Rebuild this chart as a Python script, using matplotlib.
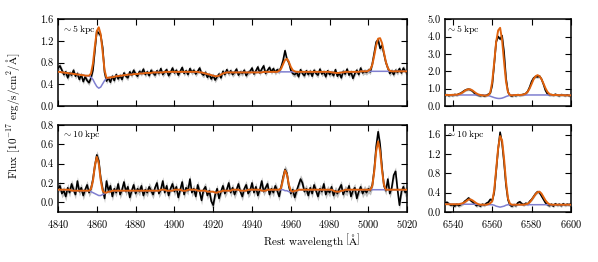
import matplotlib
matplotlib.use('Agg')
import matplotlib.pyplot as plt
import numpy as np
from matplotlib.ticker import FormatStrFormatter


# ================================== data ====================================

# wavelength grids (rest frame, Angstrom)
wave_blue = np.arange(4840, 5021)
wave_red = np.arange(6536, 6601)

# ~5 kpc, H-beta / [OIII] region: data, fitted model, continuum
flux_5_blue = [
    0.70, 0.74, 0.66, 0.58, 0.63, 0.52, 0.61, 0.57, 0.66, 0.55,
    0.60, 0.49, 0.58, 0.45, 0.54, 0.47, 0.43, 0.52, 0.66, 1.02,
    1.38, 1.34, 1.30, 1.08, 0.62, 0.46, 0.52, 0.44, 0.55, 0.47,
    0.58, 0.50, 0.56, 0.49, 0.61, 0.55, 0.52, 0.63, 0.57, 0.66,
    0.59, 0.55, 0.64, 0.60, 0.68, 0.58, 0.63, 0.56, 0.66, 0.61,
    0.57, 0.65, 0.60, 0.69, 0.58, 0.63, 0.67, 0.56, 0.62, 0.70,
    0.61, 0.66, 0.57, 0.64, 0.71, 0.60, 0.65, 0.58, 0.69, 0.62,
    0.66, 0.59, 0.64, 0.70, 0.60, 0.57, 0.62, 0.53, 0.58, 0.50,
    0.56, 0.48, 0.54, 0.59, 0.52, 0.64, 0.58, 0.67, 0.60, 0.65,
    0.58, 0.62, 0.68, 0.57, 0.63, 0.60, 0.66, 0.56, 0.62, 0.64,
    0.70, 0.59, 0.65, 0.72, 0.61, 0.68, 0.74, 0.60, 0.66, 0.71,
    0.63, 0.69, 0.62, 0.67, 0.64, 0.72, 0.84, 1.02, 0.86, 0.80,
    0.66, 0.60, 0.58, 0.62, 0.54, 0.67, 0.60, 0.56, 0.65, 0.58,
    0.64, 0.55, 0.66, 0.60, 0.57, 0.68, 0.59, 0.63, 0.54, 0.65,
    0.58, 0.62, 0.56, 0.67, 0.55, 0.61, 0.52, 0.64, 0.59, 0.68,
    0.57, 0.63, 0.51, 0.60, 0.66, 0.58, 0.70, 0.61, 0.64, 0.62,
    0.66, 0.63, 0.78, 0.98, 1.18, 1.22, 1.06, 1.12, 0.96, 0.80,
    0.70, 0.60, 0.65, 0.58, 0.66, 0.62, 0.69, 0.61, 0.70, 0.64,
    0.62]
model_5_blue = [
    0.63, 0.63, 0.62, 0.62, 0.61, 0.61, 0.60, 0.60, 0.59, 0.59,
    0.58, 0.58, 0.57, 0.57, 0.56, 0.56, 0.56, 0.60, 0.78, 1.10,
    1.38, 1.45, 1.32, 1.00, 0.66, 0.52, 0.52, 0.53, 0.53, 0.54,
    0.55, 0.55, 0.56, 0.56, 0.57, 0.57, 0.58, 0.58, 0.58, 0.59,
    0.59, 0.59, 0.60, 0.60, 0.60, 0.61, 0.61, 0.61, 0.61, 0.62,
    0.62, 0.62, 0.62, 0.62, 0.62, 0.63, 0.63, 0.63, 0.63, 0.63,
    0.63, 0.63, 0.63, 0.63, 0.63, 0.63, 0.63, 0.63, 0.63, 0.63,
    0.63, 0.63, 0.63, 0.62, 0.62, 0.61, 0.60, 0.59, 0.58, 0.57,
    0.56, 0.55, 0.55, 0.56, 0.58, 0.60, 0.61, 0.62, 0.62, 0.62,
    0.62, 0.62, 0.62, 0.62, 0.62, 0.62, 0.62, 0.62, 0.62, 0.62,
    0.62, 0.62, 0.62, 0.62, 0.62, 0.62, 0.63, 0.63, 0.63, 0.63,
    0.63, 0.63, 0.63, 0.63, 0.65, 0.69, 0.77, 0.85, 0.87, 0.81,
    0.72, 0.66, 0.64, 0.63, 0.63, 0.63, 0.63, 0.63, 0.63, 0.63,
    0.63, 0.63, 0.63, 0.63, 0.63, 0.63, 0.63, 0.63, 0.63, 0.63,
    0.63, 0.62, 0.62, 0.61, 0.61, 0.61, 0.62, 0.62, 0.63, 0.63,
    0.63, 0.63, 0.63, 0.63, 0.63, 0.63, 0.64, 0.64, 0.64, 0.64,
    0.65, 0.68, 0.76, 0.93, 1.12, 1.24, 1.25, 1.16, 0.98, 0.81,
    0.70, 0.65, 0.64, 0.64, 0.64, 0.64, 0.64, 0.64, 0.64, 0.64,
    0.64]
cont_5_blue = [
    0.63, 0.63, 0.62, 0.62, 0.61, 0.61, 0.60, 0.60, 0.59, 0.59,
    0.58, 0.58, 0.57, 0.57, 0.56, 0.56, 0.55, 0.53, 0.49, 0.42,
    0.36, 0.33, 0.35, 0.41, 0.47, 0.51, 0.52, 0.53, 0.53, 0.54,
    0.55, 0.55, 0.56, 0.56, 0.57, 0.57, 0.58, 0.58, 0.58, 0.59,
    0.59, 0.59, 0.60, 0.60, 0.60, 0.61, 0.61, 0.61, 0.61, 0.62,
    0.62, 0.62, 0.62, 0.62, 0.62, 0.63, 0.63, 0.63, 0.63, 0.63,
    0.63, 0.63, 0.63, 0.63, 0.63, 0.63, 0.63, 0.63, 0.63, 0.63,
    0.63, 0.63, 0.63, 0.62, 0.62, 0.61, 0.60, 0.59, 0.58, 0.57,
    0.56, 0.55, 0.55, 0.56, 0.58, 0.60, 0.61, 0.62, 0.62, 0.62,
    0.62, 0.62, 0.62, 0.62, 0.62, 0.62, 0.62, 0.62, 0.62, 0.62,
    0.62, 0.62, 0.62, 0.62, 0.62, 0.62, 0.63, 0.63, 0.63, 0.63,
    0.63, 0.63, 0.63, 0.63, 0.63, 0.63, 0.63, 0.63, 0.63, 0.63,
    0.63, 0.63, 0.63, 0.63, 0.63, 0.63, 0.63, 0.63, 0.63, 0.63,
    0.63, 0.63, 0.63, 0.63, 0.63, 0.63, 0.63, 0.63, 0.63, 0.63,
    0.63, 0.62, 0.62, 0.61, 0.61, 0.61, 0.62, 0.62, 0.63, 0.63,
    0.63, 0.63, 0.63, 0.63, 0.63, 0.63, 0.64, 0.64, 0.64, 0.64,
    0.64, 0.64, 0.64, 0.64, 0.64, 0.64, 0.64, 0.64, 0.64, 0.64,
    0.64, 0.64, 0.64, 0.64, 0.64, 0.64, 0.64, 0.64, 0.64, 0.64,
    0.64]

# ~10 kpc, H-beta / [OIII] region
flux_10_blue = [
    0.14, 0.17, 0.09, 0.12, 0.06, 0.15, 0.10, 0.19, 0.13, 0.08,
    0.22, 0.11, 0.15, 0.07, 0.13, 0.18, 0.10, 0.14, 0.24, 0.38,
    0.49, 0.43, 0.25, 0.14, 0.04, 0.22, 0.12, 0.17, 0.06, 0.14,
    0.10, 0.19, 0.08, 0.13, 0.21, 0.11, 0.16, 0.05, 0.12, 0.18,
    0.09, 0.14, 0.11, 0.17, 0.07, 0.13, 0.10, 0.16, 0.12, 0.08,
    0.15, 0.20, 0.09, 0.13, 0.22, 0.10, 0.17, 0.07, 0.14, 0.19,
    0.11, 0.16, 0.05, 0.13, 0.21, 0.08, 0.15, 0.12, 0.24, 0.10,
    0.14, 0.06, 0.18, 0.11, 0.02, 0.13, 0.16, 0.07, 0.12, 0.01,
    -0.03, 0.08, 0.14, 0.04, 0.11, 0.17, 0.09, 0.13, 0.20, 0.10,
    0.15, 0.08, 0.13, 0.19, 0.11, 0.06, 0.14, 0.18, 0.09, 0.12,
    0.20, 0.10, 0.16, 0.07, 0.13, 0.22, 0.11, 0.15, 0.19, 0.08,
    0.14, 0.10, 0.17, 0.12, 0.06, 0.16, 0.26, 0.34, 0.30, 0.16,
    0.09, 0.13, 0.05, 0.12, 0.18, 0.24, 0.20, 0.11, 0.14, 0.07,
    0.15, 0.09, 0.18, 0.12, 0.06, 0.14, 0.11, 0.19, 0.08, 0.13,
    0.10, 0.16, 0.07, 0.12, 0.09, 0.14, 0.18, 0.08, 0.13, 0.11,
    0.17, 0.06, 0.12, 0.15, 0.04, 0.11, 0.16, 0.09, 0.13, 0.10,
    0.14, 0.12, 0.18, 0.34, 0.58, 0.73, 0.60, 0.36, 0.17, 0.12,
    0.24, 0.09, 0.15, 0.28, 0.32, 0.13, -0.03, 0.11, 0.16, 0.10,
    0.12]
model_10_blue = [
    0.13, 0.13, 0.13, 0.13, 0.13, 0.13, 0.13, 0.12, 0.12, 0.12,
    0.12, 0.12, 0.12, 0.12, 0.12, 0.12, 0.12, 0.14, 0.22, 0.38,
    0.47, 0.40, 0.23, 0.12, 0.10, 0.10, 0.11, 0.11, 0.12, 0.12,
    0.12, 0.12, 0.12, 0.12, 0.12, 0.12, 0.12, 0.12, 0.12, 0.12,
    0.12, 0.12, 0.12, 0.12, 0.12, 0.12, 0.12, 0.12, 0.12, 0.12,
    0.12, 0.12, 0.12, 0.13, 0.13, 0.13, 0.12, 0.12, 0.12, 0.12,
    0.13, 0.13, 0.13, 0.13, 0.12, 0.12, 0.12, 0.13, 0.13, 0.13,
    0.13, 0.13, 0.12, 0.12, 0.12, 0.12, 0.12, 0.11, 0.11, 0.11,
    0.11, 0.10, 0.10, 0.11, 0.11, 0.12, 0.12, 0.12, 0.12, 0.12,
    0.13, 0.13, 0.13, 0.13, 0.12, 0.12, 0.12, 0.12, 0.13, 0.13,
    0.13, 0.13, 0.13, 0.13, 0.13, 0.12, 0.12, 0.12, 0.13, 0.13,
    0.13, 0.13, 0.13, 0.13, 0.13, 0.15, 0.24, 0.33, 0.29, 0.18,
    0.12, 0.11, 0.12, 0.12, 0.13, 0.13, 0.13, 0.13, 0.13, 0.13,
    0.13, 0.13, 0.13, 0.13, 0.13, 0.13, 0.13, 0.13, 0.13, 0.13,
    0.13, 0.13, 0.12, 0.11, 0.11, 0.11, 0.12, 0.12, 0.13, 0.13,
    0.13, 0.13, 0.13, 0.13, 0.13, 0.13, 0.13, 0.13, 0.13, 0.13,
    0.13, 0.13, 0.17, 0.32, 0.53, 0.63, 0.53, 0.33, 0.18, 0.13,
    0.13, 0.13, 0.13, 0.13, 0.13, 0.13, 0.13, 0.13, 0.13, 0.13,
    0.13]
cont_10_blue = [
    0.13, 0.13, 0.13, 0.13, 0.13, 0.13, 0.13, 0.12, 0.12, 0.12,
    0.12, 0.12, 0.12, 0.12, 0.12, 0.12, 0.12, 0.11, 0.10, 0.09,
    0.08, 0.07, 0.07, 0.08, 0.09, 0.10, 0.11, 0.11, 0.12, 0.12,
    0.12, 0.12, 0.12, 0.12, 0.12, 0.12, 0.12, 0.12, 0.12, 0.12,
    0.12, 0.12, 0.12, 0.12, 0.12, 0.12, 0.12, 0.12, 0.12, 0.12,
    0.12, 0.12, 0.12, 0.13, 0.13, 0.13, 0.12, 0.12, 0.12, 0.12,
    0.13, 0.13, 0.13, 0.13, 0.12, 0.12, 0.12, 0.13, 0.13, 0.13,
    0.13, 0.13, 0.12, 0.12, 0.12, 0.12, 0.12, 0.11, 0.11, 0.11,
    0.11, 0.10, 0.10, 0.11, 0.11, 0.12, 0.12, 0.12, 0.12, 0.12,
    0.13, 0.13, 0.13, 0.13, 0.12, 0.12, 0.12, 0.12, 0.13, 0.13,
    0.13, 0.13, 0.13, 0.13, 0.13, 0.12, 0.12, 0.12, 0.13, 0.13,
    0.13, 0.13, 0.13, 0.13, 0.13, 0.13, 0.13, 0.12, 0.12, 0.11,
    0.11, 0.11, 0.12, 0.12, 0.13, 0.13, 0.13, 0.13, 0.13, 0.13,
    0.13, 0.13, 0.13, 0.13, 0.13, 0.13, 0.13, 0.13, 0.13, 0.13,
    0.13, 0.13, 0.12, 0.11, 0.11, 0.11, 0.12, 0.12, 0.13, 0.13,
    0.13, 0.13, 0.13, 0.13, 0.13, 0.13, 0.13, 0.13, 0.13, 0.13,
    0.13, 0.13, 0.13, 0.13, 0.13, 0.13, 0.13, 0.13, 0.13, 0.13,
    0.13, 0.13, 0.13, 0.13, 0.13, 0.13, 0.13, 0.13, 0.13, 0.13,
    0.13]

# ~5 kpc, H-alpha / [NII] region
flux_5_red = [
    0.62, 0.66, 0.60, 0.64, 0.61, 0.67, 0.63, 0.70, 0.74, 0.82,
    0.90, 0.95, 0.97, 0.94, 0.86, 0.74, 0.66, 0.62, 0.60, 0.63,
    0.58, 0.62, 0.68, 0.75, 1.20, 2.40, 3.70, 4.00, 3.85, 4.05,
    3.10, 1.60, 0.80, 0.62, 0.58, 0.64, 0.60, 0.66, 0.62, 0.65,
    0.68, 0.72, 0.85, 1.10, 1.42, 1.62, 1.70, 1.68, 1.72, 1.55,
    1.25, 0.90, 0.70, 0.64, 0.66, 0.62, 0.68, 0.63, 0.60, 0.66,
    0.64, 0.61, 0.65, 0.60, 0.62]
model_5_red = [
    0.64, 0.64, 0.64, 0.64, 0.65, 0.65, 0.66, 0.68, 0.72, 0.79,
    0.87, 0.94, 0.97, 0.96, 0.90, 0.81, 0.73, 0.67, 0.64, 0.62,
    0.61, 0.61, 0.63, 0.78, 1.40, 2.50, 3.70, 4.35, 4.50, 3.80,
    2.55, 1.40, 0.80, 0.64, 0.62, 0.63, 0.64, 0.64, 0.64, 0.65,
    0.67, 0.72, 0.83, 1.02, 1.28, 1.55, 1.72, 1.78, 1.72, 1.55,
    1.30, 1.03, 0.82, 0.70, 0.65, 0.64, 0.64, 0.64, 0.63, 0.63,
    0.63, 0.62, 0.62, 0.62, 0.62]
cont_5_red = [
    0.64, 0.64, 0.64, 0.64, 0.64, 0.64, 0.64, 0.64, 0.64, 0.64,
    0.64, 0.64, 0.64, 0.64, 0.64, 0.64, 0.64, 0.64, 0.64, 0.64,
    0.63, 0.62, 0.60, 0.57, 0.53, 0.49, 0.46, 0.44, 0.44, 0.46,
    0.50, 0.55, 0.59, 0.62, 0.63, 0.64, 0.64, 0.64, 0.64, 0.64,
    0.64, 0.64, 0.64, 0.64, 0.64, 0.64, 0.64, 0.64, 0.64, 0.64,
    0.64, 0.64, 0.64, 0.64, 0.64, 0.64, 0.64, 0.64, 0.63, 0.63,
    0.63, 0.62, 0.62, 0.62, 0.62]

# ~10 kpc, H-alpha / [NII] region
flux_10_red = [
    0.18, 0.20, 0.17, 0.14, 0.15, 0.12, 0.16, 0.13, 0.15, 0.17,
    0.22, 0.25, 0.29, 0.24, 0.21, 0.17, 0.13, 0.15, 0.12, 0.16,
    0.14, 0.18, 0.20, 0.26, 0.24, 0.40, 0.85, 1.30, 1.65, 1.42,
    1.02, 0.55, 0.25, 0.14, 0.12, 0.15, 0.13, 0.19, 0.21, 0.17,
    0.15, 0.18, 0.16, 0.22, 0.26, 0.32, 0.38, 0.42, 0.40, 0.33,
    0.26, 0.19, 0.15, 0.13, 0.16, 0.12, 0.17, 0.14, 0.16, 0.13,
    0.17, 0.14, 0.16, 0.15, 0.17]
model_10_red = [
    0.16, 0.16, 0.16, 0.16, 0.16, 0.16, 0.16, 0.16, 0.17, 0.18,
    0.20, 0.23, 0.26, 0.26, 0.24, 0.21, 0.18, 0.16, 0.15, 0.15,
    0.15, 0.15, 0.16, 0.18, 0.22, 0.45, 0.88, 1.32, 1.57, 1.48,
    1.10, 0.62, 0.28, 0.17, 0.15, 0.15, 0.15, 0.15, 0.15, 0.15,
    0.15, 0.16, 0.17, 0.20, 0.25, 0.31, 0.37, 0.41, 0.42, 0.38,
    0.31, 0.24, 0.19, 0.16, 0.15, 0.15, 0.15, 0.15, 0.15, 0.15,
    0.15, 0.15, 0.15, 0.15, 0.15]
cont_10_red = [
    0.16, 0.16, 0.16, 0.16, 0.16, 0.16, 0.16, 0.16, 0.16, 0.16,
    0.16, 0.16, 0.16, 0.16, 0.16, 0.16, 0.16, 0.15, 0.15, 0.15,
    0.15, 0.15, 0.15, 0.15, 0.15, 0.14, 0.12, 0.11, 0.10, 0.11,
    0.12, 0.14, 0.15, 0.15, 0.15, 0.15, 0.15, 0.15, 0.15, 0.15,
    0.15, 0.15, 0.15, 0.15, 0.15, 0.15, 0.15, 0.15, 0.15, 0.15,
    0.15, 0.15, 0.15, 0.15, 0.15, 0.15, 0.15, 0.15, 0.15, 0.15,
    0.15, 0.15, 0.15, 0.15, 0.15]

# typical 1-sigma flux errors
err_5_blue, err_10_blue = 0.05, 0.045
err_5_red, err_10_red = 0.08, 0.035

labels = [r'$\sim5\,\mathrm{kpc}$', r'$\sim10\,\mathrm{kpc}$']


# ================================= style ====================================

plt.rcParams.update({
    'font.family': 'serif',
    'font.serif': ['cmr10', 'DejaVu Serif'],
    'mathtext.fontset': 'cm',
    'axes.formatter.use_mathtext': True,
    'font.size': 7.5,
    'axes.linewidth': 1.1,
    'xtick.direction': 'in',
    'ytick.direction': 'in',
    'xtick.top': True,
    'ytick.right': True,
    'xtick.major.size': 4,
    'ytick.major.size': 4,
    'xtick.major.width': 0.8,
    'ytick.major.width': 0.8,
    'xtick.major.pad': 4,
    'ytick.major.pad': 3,
})

ORANGE = '#e0620d'
BLUE = '#7f7fd0'


def draw_panel(ax, wave, flux, model, cont, err, label):
    """Spectrum with error band, continuum and total model."""
    flux = np.asarray(flux)
    ax.fill_between(wave, flux - err, flux + err, color='0.75', lw=0, zorder=1)
    ax.plot(wave, flux, color='k', lw=1.2, zorder=2)
    ax.plot(wave, cont, color=BLUE, lw=1.1, zorder=3)
    ax.plot(wave, model, color=ORANGE, lw=1.4, zorder=4)
    ax.text(0.012, 0.96, label, transform=ax.transAxes, ha='left', va='top',
            fontsize=7)
    ax.yaxis.set_major_formatter(FormatStrFormatter('%.1f'))


# ================================= figure ===================================

fig = plt.figure(figsize=(5.98, 2.62), dpi=100)

ax_tl = fig.add_axes([0.097, 0.595, 0.584, 0.332])
ax_bl = fig.add_axes([0.097, 0.191, 0.584, 0.332])
ax_tr = fig.add_axes([0.744, 0.595, 0.211, 0.332])
ax_br = fig.add_axes([0.744, 0.191, 0.211, 0.332])

draw_panel(ax_tl, wave_blue, flux_5_blue, model_5_blue, cont_5_blue,
           err_5_blue, labels[0])
draw_panel(ax_bl, wave_blue, flux_10_blue, model_10_blue, cont_10_blue,
           err_10_blue, labels[1])
draw_panel(ax_tr, wave_red, flux_5_red, model_5_red, cont_5_red,
           err_5_red, labels[0])
draw_panel(ax_br, wave_red, flux_10_red, model_10_red, cont_10_red,
           err_10_red, labels[1])

for ax in (ax_tl, ax_bl):
    ax.set_xlim(4840, 5020)
    ax.set_xticks(np.arange(4840, 5021, 20))
for ax in (ax_tr, ax_br):
    ax.set_xlim(6536, 6600)
    ax.set_xticks([6540, 6560, 6580, 6600])
for ax in (ax_tl, ax_tr):
    ax.tick_params(labelbottom=False)

ax_tl.set_ylim(0, 1.6)
ax_tl.set_yticks([0.0, 0.4, 0.8, 1.2, 1.6])
ax_bl.set_ylim(-0.1, 0.8)
ax_bl.set_yticks([0.0, 0.2, 0.4, 0.6, 0.8])
ax_tr.set_ylim(0, 5.0)
ax_tr.set_yticks([0.0, 1.0, 2.0, 3.0, 4.0, 5.0])
ax_br.set_ylim(0, 1.8)
ax_br.set_yticks([0.0, 0.4, 0.8, 1.2, 1.6])

fig.text(0.022, 0.56,
         r'$\mathrm{Flux}\ \left[10^{-17}\ \mathrm{erg/s/cm^2/\AA}\right]$',
         rotation=90, ha='center', va='center', fontsize=8)
fig.text(0.522, 0.085, r'$\mathrm{Rest\ wavelength}\ \left[\mathrm{\AA}\right]$',
         ha='center', va='center', fontsize=8)

fig.savefig('out.png', dpi=100)
